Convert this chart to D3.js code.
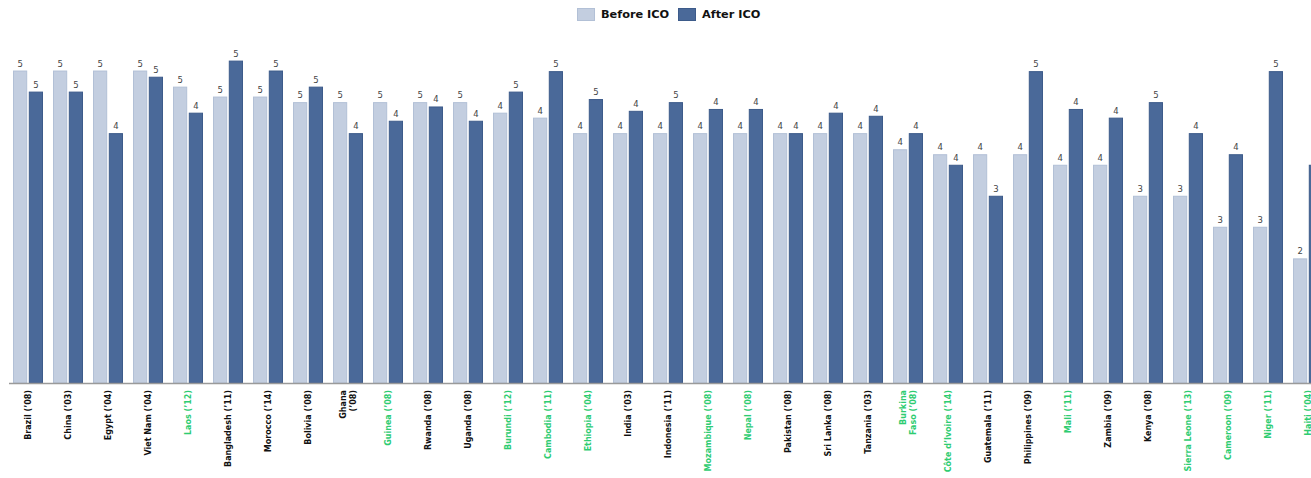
<!DOCTYPE html>
<html>
<head>
<meta charset="utf-8">
<script src="https://cdn.jsdelivr.net/npm/d3@7"></script>
<style>
  html, body { margin: 0; padding: 0; background: #ffffff; overflow: hidden; }
  svg { display: block; font-family: "DejaVu Sans", Verdana, sans-serif; }
</style>
</head>
<body>
<svg id="chart" width="1311" height="478"></svg>
<script>
// Country (year of ICO) — "\n" marks a wrapped label line
const countries = [
  "Brazil (’08)", "China (’03)", "Egypt (’04)", "Viet Nam (’04)", "Laos (’12)",
  "Bangladesh (’11)", "Morocco (’14)", "Bolivia (’08)", "Ghana\n(’08)", "Guinea (’08)",
  "Rwanda (’08)", "Uganda (’08)", "Burundi (’12)", "Cambodia (’11)", "Ethiopia (’04)",
  "India (’03)", "Indonesia (’11)", "Mozambique (’08)", "Nepal (’08)", "Pakistan (’08)",
  "Sri Lanka (’08)", "Tanzania (’03)", "Burkina\nFaso (’08)", "Côte d’Ivoire (’14)", "Guatemala (’11)",
  "Philippines (’09)", "Mali (’11)", "Zambia (’09)", "Kenya (’08)", "Sierra Leone (’13)",
  "Cameroon (’09)", "Niger (’11)", "Haiti (’04)"
];

// Countries whose label is highlighted
const highlighted = [
  "Laos (’12)", "Guinea (’08)", "Burundi (’12)", "Cambodia (’11)", "Ethiopia (’04)",
  "Mozambique (’08)", "Nepal (’08)", "Burkina\nFaso (’08)", "Côte d’Ivoire (’14)",
  "Mali (’11)", "Sierra Leone (’13)", "Cameroon (’09)", "Niger (’11)", "Haiti (’04)"
];

const beforeICO = [
  5.04, 5.04, 5.04, 5.04, 4.78,
  4.62, 4.62, 4.53, 4.53, 4.53,
  4.53, 4.53, 4.36, 4.28, 4.03,
  4.03, 4.03, 4.03, 4.03, 4.03,
  4.03, 4.03, 3.77, 3.69, 3.69,
  3.69, 3.52, 3.52, 3.02, 3.02,
  2.52, 2.52, 2.01
];

const afterICO = [
  4.70, 4.70, 4.03, 4.94, 4.36,
  5.20, 5.04, 4.78, 4.03, 4.23,
  4.46, 4.23, 4.70, 5.03, 4.58,
  4.39, 4.53, 4.42, 4.42, 4.03,
  4.36, 4.31, 4.03, 3.52, 3.02,
  5.03, 4.42, 4.28, 4.53, 4.03,
  3.69, 5.03, 3.52
];

const seriesNames = ["Before ICO", "After ICO"];
const seriesFill = ["#c3cee0", "#4a6999"];
const seriesStroke = ["#b2c0d6", "#3d5b8a"];

const rows = countries.map((c, i) => ({
  country: c,
  values: [beforeICO[i], afterICO[i]]
}));

const svg = d3.select("#chart");
const baseY = 383;

const x0 = d3.scaleBand()
  .domain(countries)
  .range([8, 8 + countries.length * 40])
  .paddingInner(0.25)
  .paddingOuter(0.125);

const x1 = d3.scaleBand()
  .domain(seriesNames)
  .range([0, x0.bandwidth()])
  .paddingInner(0.1);

const y = d3.scaleLinear().domain([0, 6]).range([baseY, 11]);

const fmt = d3.format(".0f");

// Bars and value labels
const groups = svg.append("g").selectAll("g")
  .data(rows)
  .join("g")
  .attr("transform", d => `translate(${x0(d.country)},0)`);

const cells = groups.selectAll("g")
  .data(d => d.values.map((v, k) => ({ key: seriesNames[k], k, v })))
  .join("g");

cells.append("rect")
  .attr("x", d => x1(d.key) + 0.5)
  .attr("y", d => y(d.v) + 0.5)
  .attr("width", x1.bandwidth() - 1)
  .attr("height", d => baseY - y(d.v) - 0.5)
  .attr("fill", d => seriesFill[d.k])
  .attr("stroke", d => seriesStroke[d.k])
  .attr("stroke-width", 1);

cells.append("text")
  .attr("x", d => x1(d.key) + x1.bandwidth() / 2)
  .attr("y", d => y(d.v) - 4)
  .attr("text-anchor", "middle")
  .attr("font-size", 8.5)
  .attr("fill", "#444")
  .text(d => fmt(d.v));

// Category axis
const xAxis = svg.append("g")
  .attr("transform", `translate(0,${baseY})`)
  .call(d3.axisBottom(x0).tickSize(0).tickFormat(""));
xAxis.select(".domain")
  .attr("d", `M9,0.5H1311`)
  .attr("stroke", "#9a9a9a")
  .attr("stroke-width", 1.5);

const labels = svg.append("g").selectAll("text")
  .data(countries)
  .join("text")
  .attr("transform", d => `translate(${x0(d) + x0.bandwidth() / 2},390) rotate(-90)`)
  .attr("text-anchor", "end")
  .attr("font-size", 8)
  .attr("font-weight", "bold")
  .attr("fill", d => highlighted.includes(d) ? "#2ecc71" : "#111");

labels.each(function(d) {
  const lines = d.split("\n");
  const t = d3.select(this);
  const lh = 9.5;
  const start = -((lines.length - 1) * lh) / 2;
  lines.forEach((ln, i) => {
    t.append("tspan")
      .attr("x", 0)
      .attr("y", start + i * lh)
      .attr("dy", "0.35em")
      .text(ln);
  });
});

// Legend
const legend = svg.append("g");
const legendX = [577, 678];
seriesNames.forEach((name, k) => {
  legend.append("rect")
    .attr("x", legendX[k] + 0.5)
    .attr("y", 8.5)
    .attr("width", 17)
    .attr("height", 12)
    .attr("fill", seriesFill[k])
    .attr("stroke", seriesStroke[k]);
  legend.append("text")
    .attr("x", legendX[k] + 24)
    .attr("y", 14.5)
    .attr("dy", "0.35em")
    .attr("font-size", 11.3)
    .attr("font-weight", "bold")
    .attr("fill", "#111")
    .text(name);
});
</script>
</body>
</html>
